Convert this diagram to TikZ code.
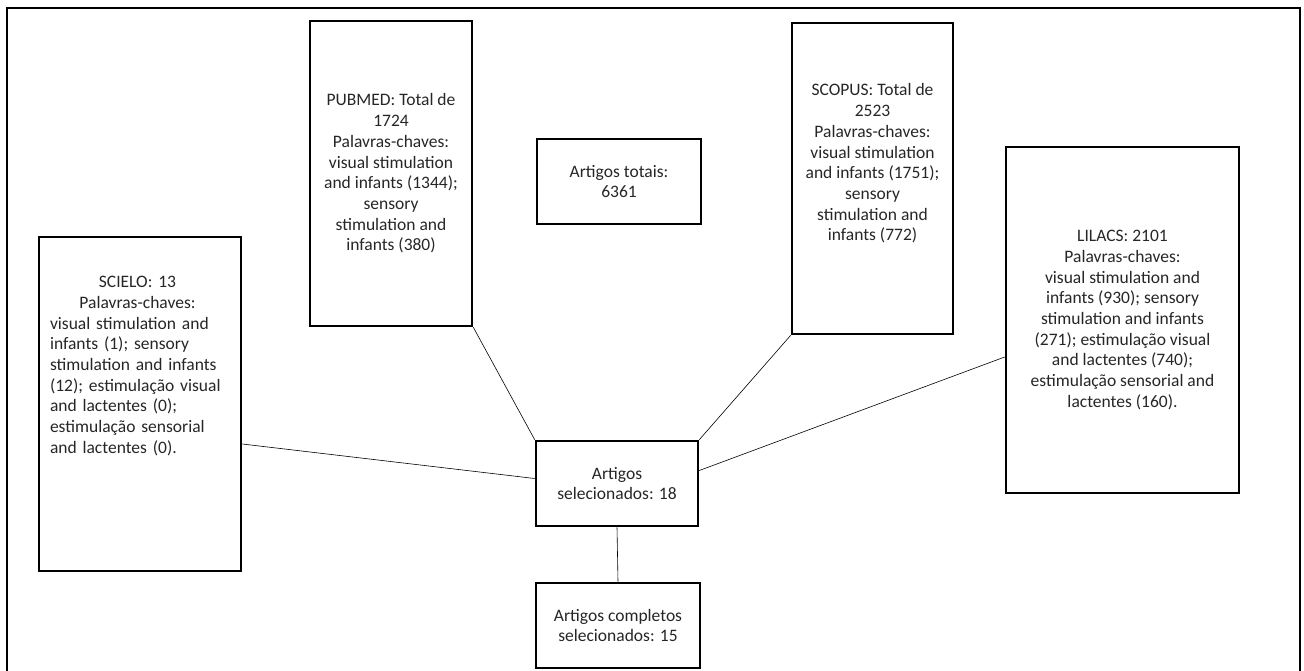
\documentclass[tikz,border=0pt]{standalone}
\usepackage{fontspec}
\setmainfont{Carlito}
\usetikzlibrary{positioning}

\begin{document}
\begin{tikzpicture}[x = 1pt, y = -1pt, % one unit per pixel, y going down
                semithick % line style
            ]

            \tikzstyle{every node}=[font = \fontsize{17.5}{20.7}\selectfont,
            text = black!85, inner sep = 0pt]
            \tikzstyle{box}=[draw = black, line width = 2.6pt, rectangle]
            \tikzstyle{txt}=[align = center]

            \useasboundingbox (0,0) rectangle (1304,670);
            \draw[line width = 1.2pt] (7,690) -- (7,8) -- (1300,8) -- (1300,690);

            % the data bases
            \node[box, txt, minimum width = 162pt, minimum height = 305pt] (pubmed)
            at (391,173.5) {PUBMED: Total de\\1724\\Palavras-chaves:\\visual
                stimulation\\and infants (1344);\\sensory\\stimulation and\\infants (380)};
            \node[box, minimum width = 161pt, minimum height = 311pt] (scopus)
            at (872.5,178.5) {};
            \node[txt] (scopustxt) at ([yshift = 15pt]scopus.center) {SCOPUS: Total
                de\\2523\\Palavras-chaves:\\visual stimulation\\and infants
                (1751);\\sensory\\stimulation and\\infants (772)};
            \node[box, minimum width = 202pt, minimum height = 334pt] (scielo)
            at (140,404) {};
            \node[align = left, text width = 175pt] (scielotxt)
            at ([xshift = -2.5pt, yshift = 38pt]scielo.center) {{\centering SCIELO:
                13\\Palavras-chaves:\par}visual stimulation and\\infants (1);
                sensory\\stimulation and infants\\(12); estimulação visual\\and
                lactentes (0);\\estimulação sensorial\\and lactentes (0).};
            \node[box, txt, minimum width = 233pt, minimum height = 346pt] (lilacs)
            at (1122.5,320) {LILACS: 2101\\Palavras-chaves:\\visual stimulation
                and\\infants (930); sensory\\stimulation and infants\\(271);
                estimulação visual\\and lactentes (740);\\estimulação sensorial
                and\\lactentes (160).};

            % the counts
            \node[box, txt, minimum width = 164pt, minimum height = 85pt] (totais)
            at (619,181.5) {Artigos totais:\\6361};
            \node[box, txt, minimum width = 162pt, minimum height = 85pt] (sel)
            at (617,483.5) {Artigos\\selecionados: 18};
            \node[box, txt, minimum width = 164pt, minimum height = 85pt] (compl)
            at (618,625.5) {Artigos completos\\selecionados: 15};

            \path (pubmed.south east) edge (sel.north west);
            \path (scopus.south west) edge (sel.north east);
            \path ([yshift = -40pt]scielo.east) edge ([yshift = 5pt]sel.west);
            \path ([yshift = -37pt]lilacs.west) edge ([yshift = 13pt]sel.east);
            \path (sel.south) edge (compl.north);
        \end{tikzpicture}
\end{document}
